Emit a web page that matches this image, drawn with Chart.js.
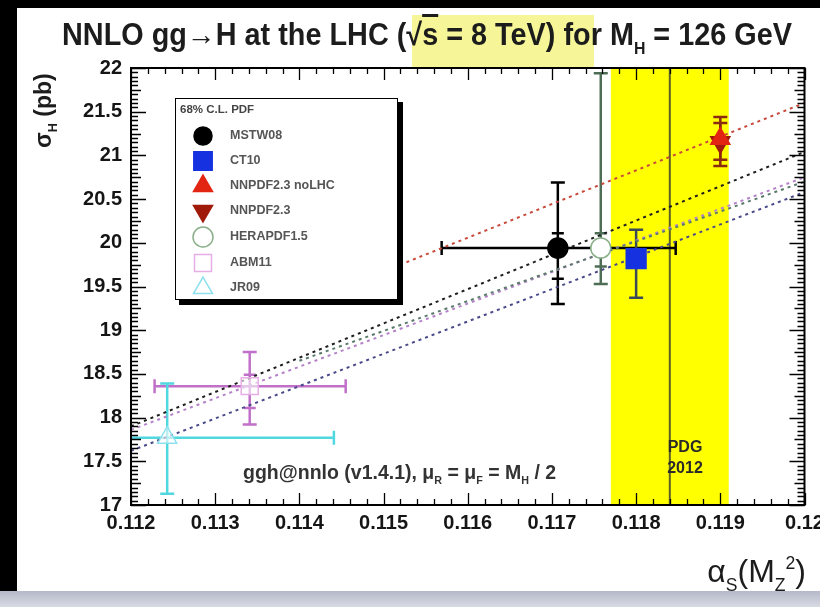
<!DOCTYPE html>
<html>
<head>
<meta charset="utf-8">
<script src="https://cdn.jsdelivr.net/npm/chart.js@4.4.0/dist/chart.umd.min.js"></script>
<style>
body { margin: 0; width: 820px; height: 607px; background: #000; position: relative; overflow: hidden;
       font-family: 'Liberation Sans', Arial, sans-serif; }
#page { position: absolute; left: 17px; top: 8px; width: 803px; height: 583px; background: #fff; }
#strip { position: absolute; left: 0; top: 591px; width: 820px; height: 16px; background: linear-gradient(#b4b8c8, #d8dae4); }
#hl { position: absolute; left: 412px; top: 15px; width: 182px; height: 53px; background: #f6f698; }
canvas { position: absolute; left: 0; top: 0; }
.t { position: absolute; white-space: nowrap; color: #1c1c1c; font-weight: bold; }
.t sub { font-size: 55%; vertical-align: -0.5em; }
.t sup { font-size: 55%; vertical-align: 0.75em; }
#title { left: 62px; top: 17px; font-size: 31px; transform-origin: 0 0; transform: scaleX(0.93); }
#ylab { left: 30px; top: 148px; font-size: 23px; transform-origin: 0 0; transform: rotate(-90deg); }
#xlab { right: 14px; top: 553px; font-size: 32px; font-weight: normal; }
#ggh { left: 243px; top: 461px; font-size: 19.5px; color: #333; }
#pdg { left: 666px; top: 436px; font-size: 16px; line-height: 21px; text-align: center; width: 38px; color: #2a2a2a; }
.leg { position: absolute; left: 230px; font-size: 12.5px; font-weight: bold; color: #555; white-space: nowrap; }
#leghead { position: absolute; left: 180px; top: 103px; font-size: 11.5px; font-weight: bold; color: #444; }
</style>
</head>
<body>
<div id="page"></div>
<div id="strip"></div>
<div id="hl"></div>
<canvas id="grafico" width="820" height="607"></canvas>
<div id="title" class="t">NNLO gg&rarr;H at the LHC (&radic;<span style="text-decoration:overline">s</span> = 8 TeV) for M<sub>H</sub> = 126 GeV</div>
<div id="ylab" class="t">&sigma;<sub>H</sub> (pb)</div>
<div id="xlab" class="t">&alpha;<sub>S</sub>(M<sub>Z</sub><sup>2</sup>)</div>
<div id="ggh" class="t">ggh@nnlo (v1.4.1), &mu;<sub>R</sub> = &mu;<sub>F</sub> = M<sub>H</sub> / 2</div>
<div id="pdg" class="t">PDG<br>2012</div>
<div id="leghead">68% C.L. PDF</div>
<div id="legenda"></div>

<script>
// eixos
const xMin = 0.112, xMax = 0.120;
const yMin = 17, yMax = 22;
const xTickValues = [0.112, 0.113, 0.114, 0.115, 0.116, 0.117, 0.118, 0.119, 0.120];
const xTickLabels = ['0.112', '0.113', '0.114', '0.115', '0.116', '0.117', '0.118', '0.119', '0.12'];
const yTickValues = [17, 17.5, 18, 18.5, 19, 19.5, 20, 20.5, 21, 21.5, 22];
const yTickLabels = ['17', '17.5', '18', '18.5', '19', '19.5', '20', '20.5', '21', '21.5', '22'];

// pontos por PDF
const pdfNames  = ['MSTW08', 'CT10', 'NNPDF2.3 noLHC', 'NNPDF2.3', 'HERAPDF1.5', 'ABM11', 'JR09'];
const alphaS    = [0.11707, 0.11800, 0.11900, 0.11900, 0.11758, 0.11341, 0.11243];
const sigmaH    = [19.94, 19.82, 21.19, 21.15, 19.94, 18.36, 17.77];
const alphaLo   = [0.11569, 0.11800, 0.11900, 0.11900, 0.11758, 0.11228, 0.11043];
const alphaHi   = [0.11847, 0.11800, 0.11900, 0.11900, 0.11758, 0.11455, 0.11441];
const sigmaLo   = [19.30, 19.37, 20.88, 20.95, 19.53, 17.92, 17.13];
const sigmaHi   = [20.69, 20.15, 21.44, 21.37, 21.94, 18.75, 18.39];
const sigmaInLo = [19.59, null, null, null, 19.73, 18.11, null];
const sigmaInHi = [20.11, null, null, null, 20.11, 18.49, null];

// retas de dependencia em alpha_s
const fitNames    = ['MSTW08', 'CT10', 'NNPDF2.3', 'HERAPDF1.5', 'ABM11'];
const fitAlphaLo  = [0.1120, 0.1120, 0.1145, 0.1140, 0.1120];
const fitSigmaLo  = [17.90, 17.62, 19.48, 18.65, 17.86];
const fitAlphaHi  = [0.1200, 0.1200, 0.1200, 0.1200, 0.1200];
const fitSigmaHi  = [21.04, 20.58, 21.60, 20.70, 20.75];

// PDG 2012
const pdgAlpha = 0.1184, pdgErr = 0.0007;

const estilos = [
    { style: 'circle',   r: 10, fill: '#000000', line: '#000000', bar: '#000000', rot: 0 },
    { style: 'rect',     r: 14, fill: '#1632e0', line: '#1632e0', bar: '#3a4858', rot: 0 },
    { style: 'triangle', r: 11, fill: '#e22412', line: '#e22412', bar: '#8a2a10', rot: 0 },
    { style: 'triangle', r: 11, fill: '#a01a0a', line: '#a01a0a', bar: '#8a2a10', rot: 180 },
    { style: 'circle',   r: 10, fill: '#ffffff', line: '#8ab08a', bar: '#4d6d55', rot: 0 },
    { style: 'rect',     r: 12, fill: 'rgba(255,255,255,0.6)', line: '#e6aee6', bar: '#c070c8', rot: 0 },
    { style: 'triangle', r: 11, fill: 'rgba(255,255,255,0.6)', line: '#8ee0ee', bar: '#50d8e0', rot: 0 }
];
const fitCores = ['#1e1e1e', '#4a4a8a', '#c84a3a', '#5a7a6a', '#b482c8'];

const datasets = [];
pdfNames.forEach((nome, i) => {
    const e = estilos[i];
    datasets.push({
        label: nome,
        data: [{ x: alphaS[i], y: sigmaH[i] }],
        pointStyle: e.style,
        pointRadius: e.r,
        pointRotation: e.rot,
        backgroundColor: e.fill,
        borderColor: e.line,
        borderWidth: 1.5,
        showLine: false,
        order: 0
    });
});
fitNames.forEach((nome, i) => {
    datasets.push({
        label: nome + ' fit',
        data: [{ x: fitAlphaLo[i], y: fitSigmaLo[i] }, { x: fitAlphaHi[i], y: fitSigmaHi[i] }],
        showLine: true,
        borderColor: fitCores[i],
        borderWidth: 2,
        borderDash: [3, 4],
        pointRadius: 0,
        order: 1
    });
});

function marcador(ctx, e, x, y, r) {
    ctx.save();
    ctx.fillStyle = e.fill;
    ctx.strokeStyle = e.line;
    ctx.lineWidth = 1.5;
    ctx.beginPath();
    if (e.style === 'circle') {
        ctx.arc(x, y, r, 0, Math.PI * 2);
    } else if (e.style === 'rect') {
        const s = r * Math.SQRT1_2;
        ctx.rect(x - s, y - s, 2 * s, 2 * s);
    } else {
        const d = e.rot ? -1 : 1;
        ctx.moveTo(x, y - d * r);
        ctx.lineTo(x + r * 0.866, y + d * r * 0.5);
        ctx.lineTo(x - r * 0.866, y + d * r * 0.5);
        ctx.closePath();
    }
    ctx.fill();
    ctx.stroke();
    ctx.restore();
}

const desenho = {
    id: 'desenho',
    beforeDatasetsDraw(chart) {
        const { ctx, chartArea: a, scales: { x, y } } = chart;
        ctx.save();
        ctx.beginPath();
        ctx.rect(a.left, a.top, a.right - a.left, a.bottom - a.top);
        ctx.clip();

        // faixa PDG
        const x0 = x.getPixelForValue(pdgAlpha - pdgErr);
        const x1 = x.getPixelForValue(pdgAlpha + pdgErr);
        ctx.fillStyle = '#ffff00';
        ctx.fillRect(x0, a.top, x1 - x0, a.bottom - a.top);
        const xc = x.getPixelForValue(pdgAlpha);
        ctx.strokeStyle = '#5e5e26';
        ctx.lineWidth = 2;
        ctx.beginPath();
        ctx.moveTo(xc, a.top);
        ctx.lineTo(xc, a.bottom);
        ctx.stroke();

        // barras de erro
        ctx.lineWidth = 2.5;
        pdfNames.forEach((_, i) => {
            const px = x.getPixelForValue(alphaS[i]);
            const py = y.getPixelForValue(sigmaH[i]);
            ctx.strokeStyle = estilos[i].bar;
            ctx.beginPath();
            const yl = y.getPixelForValue(sigmaLo[i]);
            const yh = y.getPixelForValue(sigmaHi[i]);
            ctx.moveTo(px, yl); ctx.lineTo(px, yh);
            ctx.moveTo(px - 7, yl); ctx.lineTo(px + 7, yl);
            ctx.moveTo(px - 7, yh); ctx.lineTo(px + 7, yh);
            if (sigmaInLo[i] !== null) {
                const il = y.getPixelForValue(sigmaInLo[i]);
                const ih = y.getPixelForValue(sigmaInHi[i]);
                ctx.moveTo(px - 6, il); ctx.lineTo(px + 6, il);
                ctx.moveTo(px - 6, ih); ctx.lineTo(px + 6, ih);
            }
            if (alphaHi[i] > alphaLo[i]) {
                const xl = x.getPixelForValue(alphaLo[i]);
                const xh = x.getPixelForValue(alphaHi[i]);
                ctx.moveTo(xl, py); ctx.lineTo(xh, py);
                ctx.moveTo(xl, py - 7); ctx.lineTo(xl, py + 7);
                ctx.moveTo(xh, py - 7); ctx.lineTo(xh, py + 7);
            }
            ctx.stroke();
        });
        ctx.restore();
    },
    afterDatasetsDraw(chart) {
        const { ctx } = chart;
        // caixa da legenda
        ctx.save();
        ctx.fillStyle = '#000';
        ctx.fillRect(179, 102, 224, 203);
        ctx.fillStyle = '#fff';
        ctx.fillRect(175, 98, 223, 202);
        ctx.strokeStyle = '#000';
        ctx.lineWidth = 1;
        ctx.strokeRect(175.5, 98.5, 222, 201);
        const linhas = [136, 161, 186, 211, 237, 263, 288];
        const tam = [9, 13, 11, 11, 10, 12, 11];
        estilos.forEach((e, i) => marcador(ctx, e, 203, linhas[i], tam[i]));
        ctx.restore();
    },
    afterDraw(chart) {
        const { ctx, chartArea: a, scales: { x, y } } = chart;
        ctx.save();
        ctx.strokeStyle = '#000';
        ctx.lineWidth = 1.3;
        ctx.beginPath();
        for (let i = 0; i <= 40; i++) {
            const px = Math.round(x.getPixelForValue(xMin + i * (xMax - xMin) / 40)) + 0.5;
            const len = i % 5 === 0 ? 12 : 6;
            ctx.moveTo(px, a.bottom); ctx.lineTo(px, a.bottom - len);
            ctx.moveTo(px, a.top); ctx.lineTo(px, a.top + len);
        }
        for (let i = 0; i <= 100; i++) {
            const py = Math.round(y.getPixelForValue(yMin + i * (yMax - yMin) / 100)) + 0.5;
            const len = i % 10 === 0 ? 15 : (i % 5 === 0 ? 10 : 7);
            ctx.moveTo(a.left, py); ctx.lineTo(a.left + len, py);
            ctx.moveTo(a.right, py); ctx.lineTo(a.right - len, py);
        }
        ctx.stroke();
        ctx.lineWidth = 2;
        ctx.strokeRect(a.left, a.top, a.right - a.left, a.bottom - a.top);
        ctx.restore();
    }
};

const fonteEixo = { family: "'Liberation Sans', Arial, sans-serif", size: 20, weight: 'bold' };

new Chart(document.getElementById('grafico'), {
    type: 'scatter',
    data: { datasets },
    options: {
        responsive: false,
        animation: false,
        devicePixelRatio: 1,
        layout: { padding: { left: 0, top: 68, right: 13, bottom: 0 } },
        plugins: { legend: { display: false }, tooltip: { enabled: false } },
        scales: {
            x: {
                type: 'linear', min: xMin, max: xMax,
                afterBuildTicks: s => { s.ticks = xTickValues.map(v => ({ value: v })); },
                afterFit: s => { s.height = 102; s.paddingLeft = 0; s.paddingRight = 0; },
                grid: { display: false, drawTicks: false },
                border: { display: false },
                ticks: { callback: (v, i) => xTickLabels[i], font: fonteEixo, color: '#151515',
                         padding: 6, maxRotation: 0, autoSkip: false }
            },
            y: {
                type: 'linear', min: yMin, max: yMax,
                afterBuildTicks: s => { s.ticks = yTickValues.map(v => ({ value: v })); },
                afterFit: s => { s.width = 131; s.paddingTop = 0; s.paddingBottom = 0; },
                grid: { display: false, drawTicks: false },
                border: { display: false },
                ticks: { callback: (v, i) => yTickLabels[i], font: fonteEixo, color: '#151515',
                         padding: 9, autoSkip: false }
            }
        }
    },
    plugins: [desenho]
});

// textos da legenda
const legTops = [128, 153, 178, 203, 229, 255, 280];
const legenda = document.getElementById('legenda');
pdfNames.forEach((nome, i) => {
    const d = document.createElement('div');
    d.className = 'leg';
    d.style.top = legTops[i] + 'px';
    d.textContent = nome;
    legenda.appendChild(d);
});
</script>
</body>
</html>
